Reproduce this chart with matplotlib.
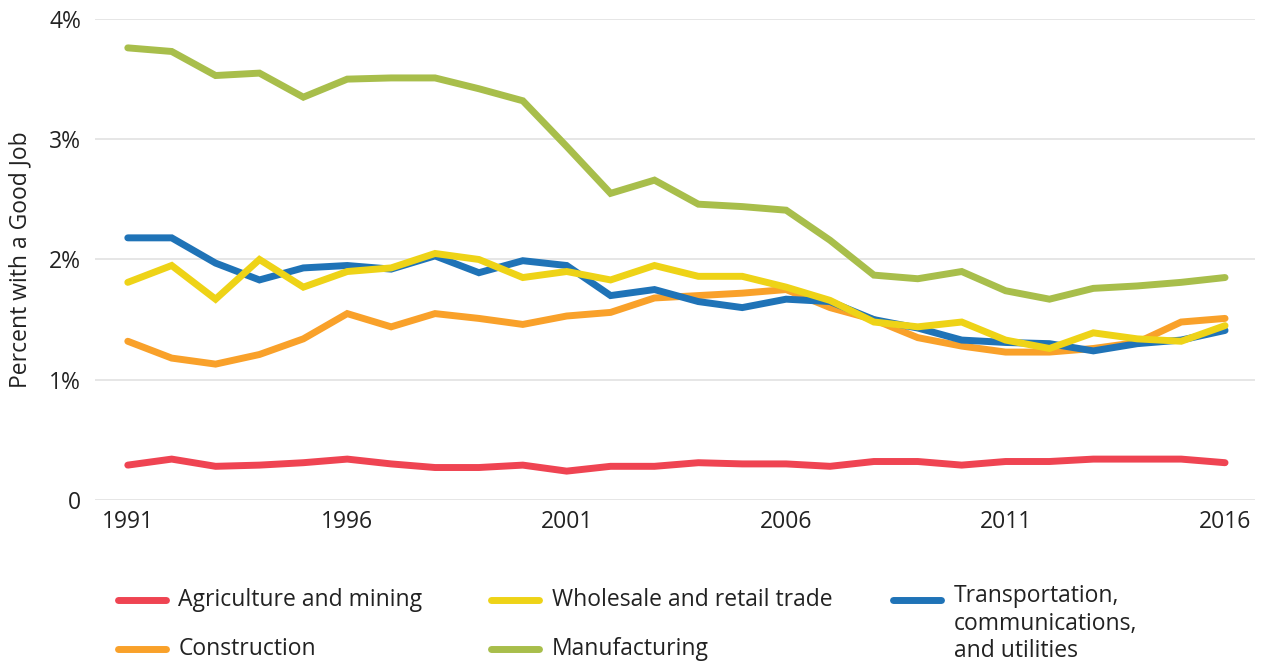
import matplotlib.pyplot as plt
from matplotlib.lines import Line2D

plt.rcParams['font.family'] = ['Open Sans', 'DejaVu Sans']

years = list(range(1991, 2017))

agriculture = [0.29, 0.34, 0.28, 0.29, 0.31, 0.34, 0.30, 0.27, 0.27, 0.29,
               0.24, 0.28, 0.28, 0.31, 0.30, 0.30, 0.28, 0.32, 0.32, 0.29,
               0.32, 0.32, 0.34, 0.34, 0.34, 0.31]
construction = [1.32, 1.18, 1.13, 1.21, 1.34, 1.55, 1.44, 1.55, 1.51, 1.46,
                1.53, 1.56, 1.68, 1.70, 1.72, 1.75, 1.60, 1.50, 1.35, 1.28,
                1.23, 1.23, 1.26, 1.31, 1.48, 1.51]
transport = [2.18, 2.18, 1.97, 1.83, 1.93, 1.95, 1.92, 2.03, 1.89, 1.99,
             1.95, 1.70, 1.75, 1.65, 1.60, 1.67, 1.65, 1.50, 1.43, 1.33,
             1.31, 1.30, 1.24, 1.30, 1.33, 1.41]
wholesale = [1.81, 1.95, 1.67, 2.00, 1.77, 1.90, 1.93, 2.05, 2.00, 1.85,
             1.90, 1.83, 1.95, 1.86, 1.86, 1.77, 1.66, 1.48, 1.44, 1.48,
             1.33, 1.26, 1.39, 1.34, 1.32, 1.45]
manufacturing = [3.76, 3.73, 3.53, 3.55, 3.35, 3.50, 3.51, 3.51, 3.42, 3.32,
                 2.94, 2.55, 2.66, 2.46, 2.44, 2.41, 2.16, 1.87, 1.84, 1.90,
                 1.74, 1.67, 1.76, 1.78, 1.81, 1.85]

series = [
    ("Agriculture and mining", agriculture, "#EF4452"),
    ("Construction", construction, "#F9A12A"),
    ("Transportation,\ncommunications,\nand utilities", transport, "#1F73B7"),
    ("Wholesale and retail trade", wholesale, "#EED317"),
    ("Manufacturing", manufacturing, "#A8BE4B"),
]

yticks = [0, 1, 2, 3, 4]
ytick_labels = ["0", "1%", "2%", "3%", "4%"]
xticks = [1991, 1996, 2001, 2006, 2011, 2016]

fig = plt.figure(figsize=(12.65, 6.67), dpi=100)
ax = fig.add_axes([0.075, 0.2504, 0.917, 0.7211])

for name, vals, col in series:
    ax.plot(years, vals, color=col, lw=5, solid_capstyle='round',
            solid_joinstyle='miter')

ax.set_xlim(1990.25, 2016.68)
ax.set_ylim(0, 4)
ax.set_yticks(yticks)
ax.set_yticklabels(ytick_labels)
ax.set_xticks(xticks)
ax.grid(axis='y', color='#e2e2e2', lw=1.2)
ax.set_axisbelow(True)
for s in ax.spines.values():
    s.set_visible(False)
ax.tick_params(length=0, labelsize=16.5, colors='#222222', pad=7)
ax.tick_params(axis='y', pad=10)
ax.set_ylabel("Percent with a Good Job", fontsize=16.5, color='#222222', labelpad=12)

# legend, laid out by hand in three columns
legend_pos = {
    "Agriculture and mining": (0.093, 0.100),
    "Construction": (0.093, 0.027),
    "Wholesale and retail trade": (0.388, 0.100),
    "Manufacturing": (0.388, 0.027),
    "Transportation,\ncommunications,\nand utilities": (0.706, 0.100),
}
for name, vals, col in series:
    lx, ly = legend_pos[name]
    fig.add_artist(Line2D([lx, lx + 0.038], [ly, ly], color=col, lw=5,
                          solid_capstyle='round', transform=fig.transFigure))
    multi = '\n' in name
    ty = ly + 0.024 if multi else ly
    fig.text(lx + 0.048, ty, name, fontsize=16.5, color='#222222',
             va='top' if multi else 'center', linespacing=1.2)

fig.savefig("out.png", dpi=100)
